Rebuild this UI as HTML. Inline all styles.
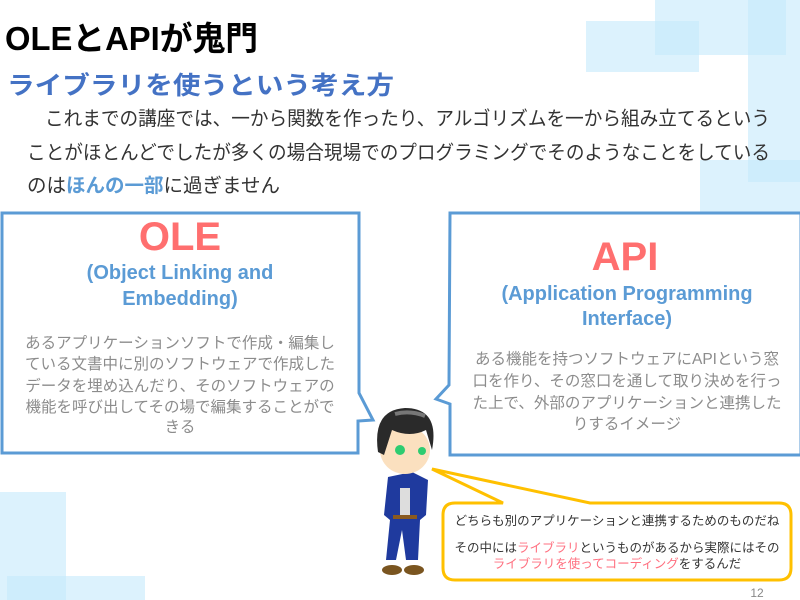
<!DOCTYPE html>
<html><head><meta charset="utf-8"><style>
html,body{margin:0;padding:0;background:#fff;}
svg{display:block;}
text{font-family:"Liberation Sans","Noto Sans CJK JP",sans-serif;}
</style></head><body>
<svg width="800" height="600" viewBox="0 0 800 600" xmlns="http://www.w3.org/2000/svg">
<g fill="#c4e9fb" fill-opacity="0.6">
<rect x="655" y="0" width="131" height="55"/>
<rect x="586" y="21" width="113" height="51"/>
<rect x="748" y="0" width="52" height="182"/>
<rect x="700" y="160" width="100" height="52"/>
<rect x="0" y="492" width="66" height="108"/>
<rect x="7" y="576" width="138" height="24"/>
</g>
<text x="5" y="50" font-size="33" font-weight="bold" fill="#000" textLength="253" lengthAdjust="spacingAndGlyphs">OLEとAPIが鬼門</text>
<text x="7" y="94" font-size="25" font-weight="bold" fill="#4472c4" textLength="387" lengthAdjust="spacingAndGlyphs">ライブラリを使うという考え方</text>
<g font-size="19.5" fill="#333">
<text x="45" y="125" textLength="725" lengthAdjust="spacingAndGlyphs">これまでの講座では、一から関数を作ったり、アルゴリズムを一から組み立てるという</text>
<text x="27" y="159" textLength="743" lengthAdjust="spacingAndGlyphs">ことがほとんどでしたが多くの場合現場でのプログラミングでそのようなことをしている</text>
<text x="27" y="192">のは<tspan fill="#5b9bd5" font-weight="bold">ほんの一部</tspan>に過ぎません</text>
</g>
<!-- left callout -->
<path d="M2,213 H359 V393 L373,420 L358,421 V453 H2 Z" fill="#fff" stroke="#5b9bd5" stroke-width="3"/>
<text x="180" y="250" font-size="40" font-weight="bold" fill="#ff6f6f" text-anchor="middle">OLE</text>
<g font-size="20" font-weight="bold" fill="#5b9bd5" text-anchor="middle">
<text x="180" y="279">(Object Linking and</text>
<text x="180" y="305">Embedding)</text>
</g>
<g font-size="15.5" fill="#8c8c8c" text-anchor="middle">
<text x="180" y="348">あるアプリケーションソフトで作成・編集し</text>
<text x="180" y="369">ている文書中に別のソフトウェアで作成した</text>
<text x="180" y="391">データを埋め込んだり、そのソフトウェアの</text>
<text x="180" y="412">機能を呼び出してその場で編集することがで</text>
<text x="180" y="432">きる</text>
</g>
<!-- right callout -->
<path d="M450,213 H801 V455 H450 V404 L436,399 L449,385 Z" fill="#fff" stroke="#5b9bd5" stroke-width="3"/>
<text x="625" y="270" font-size="40" font-weight="bold" fill="#ff6f6f" text-anchor="middle">API</text>
<g font-size="20" font-weight="bold" fill="#5b9bd5" text-anchor="middle">
<text x="627" y="300">(Application Programming</text>
<text x="627" y="325">Interface)</text>
</g>
<g font-size="15.5" fill="#8c8c8c" text-anchor="middle">
<text x="627" y="364">ある機能を持つソフトウェアにAPIという窓</text>
<text x="627" y="386">口を作り、その窓口を通して取り決めを行っ</text>
<text x="627" y="408">た上で、外部のアプリケーションと連携した</text>
<text x="627" y="429">りするイメージ</text>
</g>
<!-- yellow callout -->
<path d="M455,503 H503 L432,469 L590,503 H779 Q791,503 791,515 V568 Q791,580 779,580 H455 Q443,580 443,568 V515 Q443,503 455,503 Z" fill="#fff" stroke="#ffc000" stroke-width="3"/>
<g font-size="12.5" fill="#333" text-anchor="middle">
<text x="617" y="525">どちらも別のアプリケーションと連携するためのものだね</text>
<text x="617" y="552">その中には<tspan fill="#ff6f7f">ライブラリ</tspan>というものがあるから実際にはその</text>
<text x="617" y="568"><tspan fill="#ff6f7f">ライブラリを使ってコーディング</tspan>をするんだ</text>
</g>
<!-- character -->
<g>
<path d="M388,477 L412,472 L428,480 L426,515 L420,520 L418,560 L406,560 L402,530 L396,560 L386,560 L390,520 L384,515 Z" fill="#1f3a9e"/>
<rect x="400" y="488" width="10" height="30" fill="#ddd"/>
<rect x="393" y="515" width="24" height="4" fill="#8a5a20"/>
<ellipse cx="392" cy="570" rx="10" ry="5" fill="#7a5520"/>
<ellipse cx="414" cy="570" rx="10" ry="5" fill="#7a5520"/>
<ellipse cx="405" cy="450" rx="25" ry="24" fill="#fbe0bf"/>
<path d="M378,452 Q372,410 405,408 Q440,408 432,450 L426,430 Q410,438 392,430 L384,455 Z" fill="#2a2a2a"/>
<path d="M395,414 Q410,410 425,416" stroke="#777" stroke-width="4" fill="none"/>
<circle cx="400" cy="450" r="5" fill="#2ecc71"/>
<circle cx="422" cy="451" r="4" fill="#2ecc71"/>
</g>
<text x="757" y="597" font-size="12" fill="#888" text-anchor="middle">12</text>
</svg>
</body></html>
